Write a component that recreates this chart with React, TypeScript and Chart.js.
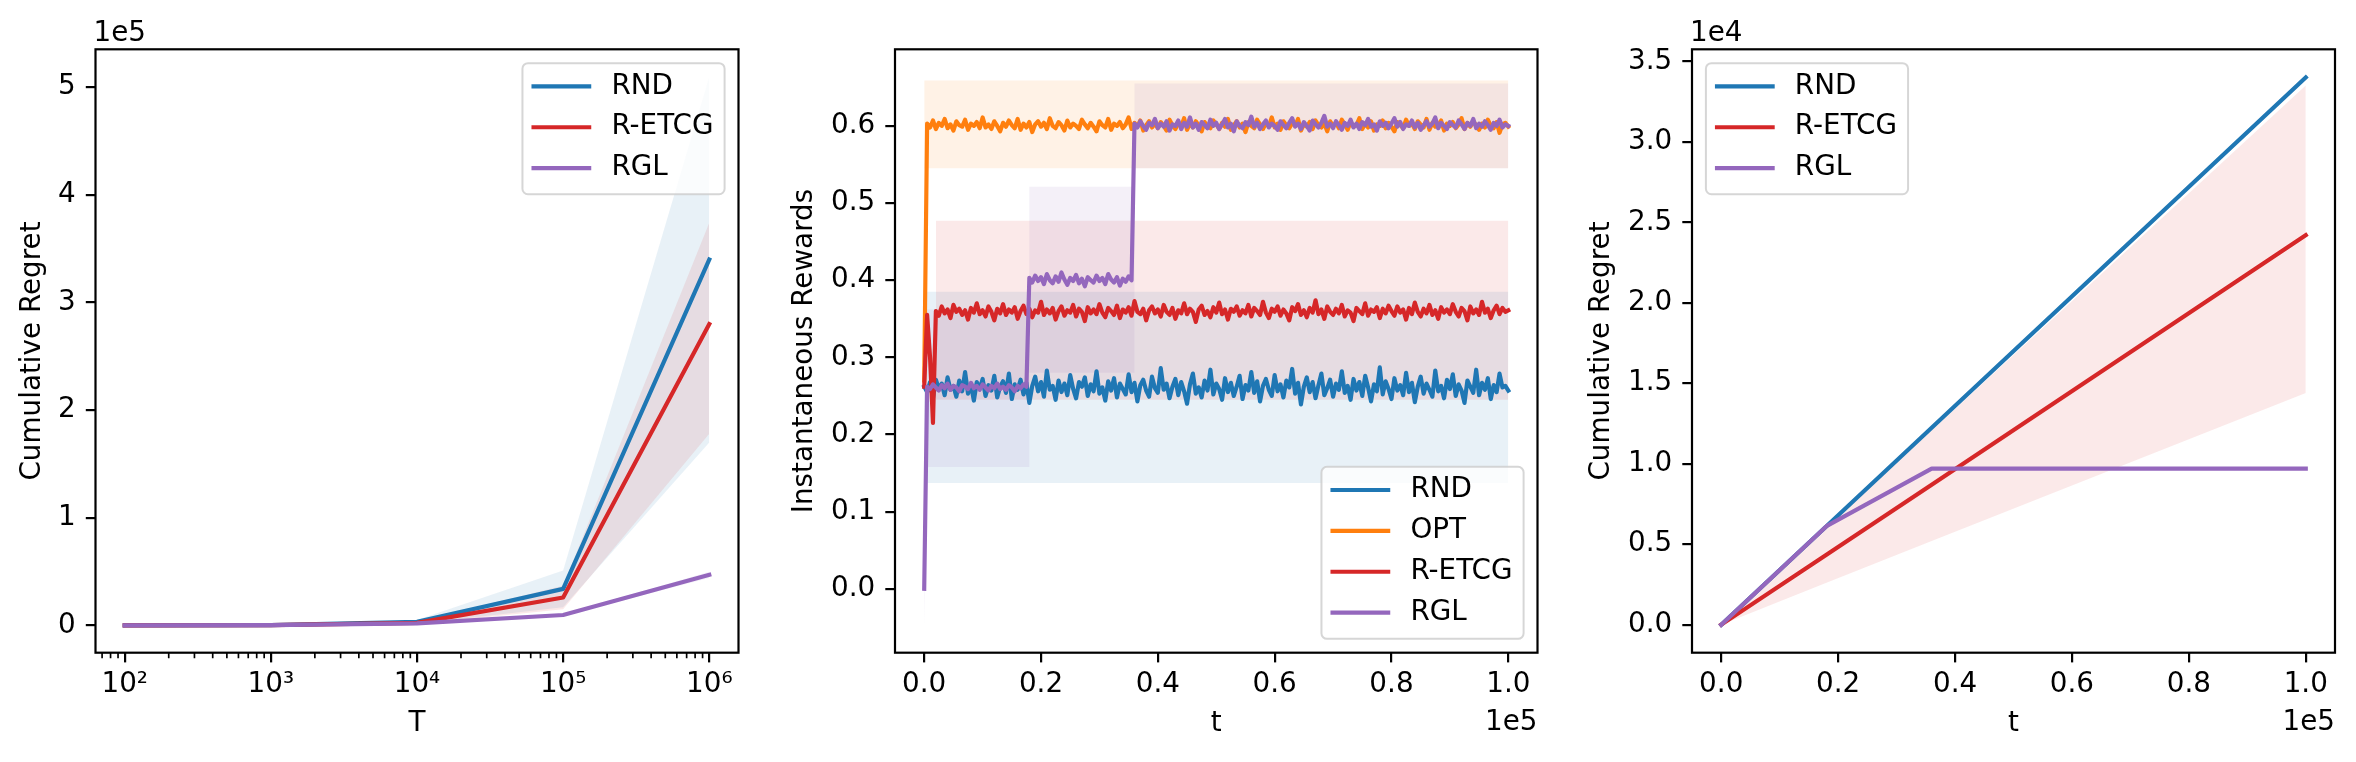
import React, { useEffect, useRef } from 'react';
import { Chart, ChartConfiguration, Plugin, registerables } from 'chart.js';

Chart.register(...registerables);

const FIG_W = 2356;
const FIG_H = 762;
const FONT = '"DejaVu Sans", sans-serif';
const FS = 27.8; // 10pt at 200 dpi
const LINE_W = 4.17; // 1.5pt
const AXES_TOP = 49.3;
const AXES_BOTTOM = 652.7;

const BLUE = '#1f77b4';
const ORANGE = '#ff7f0e';
const RED = '#d62728';
const PURPLE = '#9467bd';

// ---------- left panel: cumulative regret vs horizon T ----------
const HORIZONS = [1e2, 1e3, 1e4, 1e5, 1e6];
const HORIZON_LABELS = ['10²', '10³', '10⁴', '10⁵', '10⁶'];
const MINOR_DECADES = [10, 100, 1000, 10000, 100000];
const MINOR_MANTISSAS = [2, 3, 4, 5, 6, 7, 8, 9];
const H_RND = [34, 340, 3400, 34000, 340000];
const H_RND_LO = [17, 170, 1700, 17000, 170000];
const H_RND_HI = [51, 510, 5100, 51000, 510000];
const H_RETCG = [24, 240, 2400, 26000, 280000];
const H_RETCG_LO = [12, 120, 1200, 15000, 178000];
const H_RETCG_HI = [36, 360, 3600, 37000, 374000];
const H_RGL = [30, 300, 2000, 9700, 47000];
const H_RGL_LO = [25, 250, 1700, 9000, 44000];
const H_RGL_HI = [35, 350, 2300, 10400, 50000];
const REGRET_E5_TICKS = [0, 100000, 200000, 300000, 400000, 500000];
const REGRET_E5_LABELS = ['0', '1', '2', '3', '4', '5'];

// ---------- middle panel: instantaneous rewards, sampled every 500 steps ----------
const T_STEP = 500;
const REWARD_RND = [
  0.262, 0.255, 0.268, 0.247, 0.271, 0.259, 0.266, 0.251, 0.274, 0.258, 0.263, 0.249, 0.270, 0.256, 0.281, 0.253, 0.265, 0.244, 0.268, 0.259,
  0.272, 0.250, 0.264, 0.257, 0.276, 0.248, 0.262, 0.269, 0.254, 0.279, 0.246, 0.265, 0.258, 0.271, 0.252, 0.267, 0.241, 0.263, 0.275, 0.256,
  0.268, 0.249, 0.283, 0.258, 0.263, 0.245, 0.270, 0.255, 0.266, 0.251, 0.277, 0.259, 0.247, 0.268, 0.262, 0.274, 0.250, 0.265, 0.256, 0.282,
  0.253, 0.261, 0.244, 0.269, 0.257, 0.273, 0.248, 0.266, 0.259, 0.252, 0.278, 0.255, 0.267, 0.243, 0.264, 0.271, 0.257, 0.249, 0.275, 0.260,
  0.254, 0.286, 0.258, 0.266, 0.247, 0.262, 0.272, 0.251, 0.268, 0.256, 0.240, 0.265, 0.279, 0.253, 0.261, 0.248, 0.270, 0.257, 0.284, 0.252,
  0.266, 0.259, 0.245, 0.273, 0.255, 0.267, 0.250, 0.262, 0.276, 0.246, 0.264, 0.257, 0.281, 0.254, 0.269, 0.243, 0.263, 0.272, 0.258, 0.250,
  0.277, 0.256, 0.265, 0.248, 0.270, 0.261, 0.285, 0.253, 0.267, 0.239, 0.262, 0.274, 0.255, 0.268, 0.247, 0.264, 0.279, 0.251, 0.260, 0.271,
  0.249, 0.266, 0.258, 0.282, 0.254, 0.263, 0.245, 0.272, 0.257, 0.268, 0.250, 0.276, 0.261, 0.243, 0.265, 0.256, 0.287, 0.252, 0.269, 0.259,
  0.246, 0.273, 0.257, 0.264, 0.251, 0.280, 0.255, 0.267, 0.242, 0.262, 0.275, 0.253, 0.266, 0.258, 0.249, 0.283, 0.256, 0.263, 0.247, 0.271,
  0.259, 0.278, 0.250, 0.265, 0.257, 0.241, 0.270, 0.262, 0.254, 0.284, 0.251, 0.267, 0.258, 0.273, 0.246, 0.264, 0.255, 0.279, 0.261, 0.263,
  0.257,
];
const REWARD_OPT = [
  0.270, 0.603, 0.598, 0.607, 0.596, 0.604, 0.600, 0.609, 0.597, 0.602, 0.594, 0.606, 0.601, 0.599, 0.608, 0.595, 0.603, 0.600, 0.605, 0.597,
  0.611, 0.598, 0.602, 0.596, 0.606, 0.600, 0.593, 0.604, 0.599, 0.607, 0.601, 0.597, 0.609, 0.595, 0.603, 0.598, 0.605, 0.592, 0.602, 0.606,
  0.599, 0.604, 0.596, 0.610, 0.600, 0.597, 0.605, 0.601, 0.594, 0.607, 0.598, 0.603, 0.600, 0.596, 0.608, 0.602, 0.597, 0.604, 0.599, 0.593,
  0.606, 0.601, 0.598, 0.609, 0.595, 0.603, 0.600, 0.605, 0.597, 0.602, 0.611, 0.596, 0.604, 0.599, 0.607, 0.594, 0.601, 0.606, 0.598, 0.603,
  0.597, 0.605, 0.600, 0.594, 0.608, 0.601, 0.596, 0.604, 0.599, 0.610, 0.595, 0.603, 0.598, 0.606, 0.601, 0.593, 0.605, 0.600, 0.597, 0.607,
  0.602, 0.596, 0.604, 0.599, 0.609, 0.595, 0.601, 0.606, 0.598, 0.603, 0.592, 0.605, 0.600, 0.597, 0.608, 0.602, 0.596, 0.604, 0.599, 0.611,
  0.598, 0.603, 0.595, 0.606, 0.601, 0.597, 0.604, 0.600, 0.609, 0.594, 0.602, 0.599, 0.605, 0.596, 0.607, 0.601, 0.598, 0.603, 0.593, 0.606,
  0.600, 0.604, 0.597, 0.608, 0.602, 0.595, 0.605, 0.599, 0.601, 0.610, 0.596, 0.603, 0.598, 0.606, 0.594, 0.602, 0.600, 0.607, 0.597, 0.604,
  0.599, 0.593, 0.605, 0.601, 0.597, 0.608, 0.600, 0.603, 0.596, 0.606, 0.602, 0.598, 0.609, 0.595, 0.604, 0.599, 0.601, 0.607, 0.594, 0.603,
  0.600, 0.605, 0.597, 0.602, 0.610, 0.596, 0.604, 0.599, 0.606, 0.601, 0.595, 0.603, 0.598, 0.608, 0.600, 0.597, 0.605, 0.591, 0.602, 0.604,
  0.599,
];
const REWARD_RETCG = [
  0.262, 0.355, 0.300, 0.215, 0.360, 0.354, 0.366, 0.357, 0.362, 0.351, 0.368, 0.359, 0.363, 0.355, 0.361, 0.349, 0.364, 0.358, 0.370, 0.356,
  0.361, 0.353, 0.366, 0.359, 0.348, 0.363, 0.357, 0.369, 0.355, 0.362, 0.358, 0.365, 0.350, 0.360, 0.367, 0.356, 0.363, 0.352, 0.361, 0.358,
  0.372, 0.355, 0.362, 0.357, 0.364, 0.349, 0.360, 0.366, 0.354, 0.361, 0.358, 0.368, 0.353, 0.363, 0.359, 0.347, 0.365, 0.357, 0.362, 0.356,
  0.369, 0.358, 0.352, 0.364, 0.360, 0.355, 0.367, 0.351, 0.362, 0.358, 0.365, 0.354, 0.373, 0.359, 0.356, 0.363, 0.348, 0.361, 0.366, 0.357,
  0.362, 0.353, 0.368, 0.359, 0.355, 0.364, 0.350, 0.361, 0.357, 0.370, 0.356, 0.363, 0.359, 0.346, 0.362, 0.367, 0.355, 0.360, 0.352, 0.365,
  0.358, 0.371, 0.356, 0.362, 0.349, 0.363, 0.359, 0.366, 0.354, 0.361, 0.357, 0.368, 0.353, 0.364, 0.360, 0.355, 0.372, 0.358, 0.351, 0.363,
  0.359, 0.366, 0.354, 0.362, 0.357, 0.348, 0.365, 0.360, 0.369, 0.355, 0.361, 0.352, 0.364, 0.358, 0.374, 0.356, 0.362, 0.350, 0.366, 0.359,
  0.355, 0.363, 0.357, 0.368, 0.353, 0.361, 0.358, 0.347, 0.364, 0.360, 0.356, 0.370, 0.354, 0.362, 0.359, 0.365, 0.351, 0.363, 0.357, 0.367,
  0.360, 0.354, 0.366, 0.358, 0.362, 0.349, 0.364, 0.356, 0.371, 0.359, 0.353, 0.363, 0.357, 0.368, 0.355, 0.361, 0.350, 0.365, 0.358, 0.362,
  0.356, 0.369, 0.359, 0.353, 0.364, 0.360, 0.348, 0.366, 0.357, 0.362, 0.355, 0.372, 0.358, 0.363, 0.351, 0.361, 0.367, 0.356, 0.364, 0.359,
  0.361,
];
const REWARD_RGL = [
  0.000, 0.262, 0.259, 0.265, 0.261, 0.257, 0.264, 0.260, 0.266, 0.258, 0.263, 0.261, 0.256, 0.264, 0.262, 0.259, 0.267, 0.260, 0.263, 0.258,
  0.265, 0.261, 0.257, 0.263, 0.260, 0.266, 0.259, 0.262, 0.258, 0.264, 0.261, 0.256, 0.263, 0.260, 0.265, 0.262, 0.403, 0.397, 0.406, 0.399,
  0.404, 0.395, 0.408, 0.400, 0.396, 0.405, 0.398, 0.410, 0.401, 0.394, 0.403, 0.399, 0.407, 0.396, 0.402, 0.392, 0.404, 0.400, 0.397, 0.406,
  0.399, 0.403, 0.395, 0.408, 0.401, 0.397, 0.404, 0.393, 0.402, 0.398, 0.405, 0.400, 0.603, 0.598, 0.606, 0.600, 0.595, 0.604, 0.601, 0.609,
  0.597, 0.603, 0.599, 0.606, 0.594, 0.602, 0.600, 0.607, 0.596, 0.604, 0.599, 0.611, 0.598, 0.603, 0.595, 0.605, 0.601, 0.597, 0.608, 0.600,
  0.604, 0.596, 0.602, 0.609, 0.598, 0.603, 0.593, 0.606, 0.600, 0.597, 0.605, 0.601, 0.612, 0.599, 0.604, 0.596, 0.602, 0.607, 0.598, 0.603,
  0.600, 0.595, 0.606, 0.601, 0.597, 0.604, 0.610, 0.599, 0.603, 0.596, 0.605, 0.600, 0.594, 0.607, 0.602, 0.598, 0.604, 0.613, 0.599, 0.603,
  0.597, 0.606, 0.601, 0.595, 0.604, 0.600, 0.608, 0.598, 0.603, 0.596, 0.605, 0.601, 0.609, 0.599, 0.602, 0.594, 0.606, 0.600, 0.604, 0.597,
  0.603, 0.610, 0.599, 0.605, 0.596, 0.602, 0.600, 0.607, 0.598, 0.604, 0.595, 0.601, 0.606, 0.599, 0.603, 0.611, 0.597, 0.604, 0.600, 0.596,
  0.605, 0.601, 0.598, 0.607, 0.602, 0.596, 0.604, 0.600, 0.609, 0.597, 0.603, 0.599, 0.606, 0.601, 0.595, 0.604, 0.600, 0.608, 0.598, 0.602,
  0.600,
];
const FLAT_BAND_T = [0, 100000];
const RND_BAND_LO = [0.137, 0.137];
const RND_BAND_HI = [0.385, 0.385];
const OPT_BAND_LO = [0.545, 0.545];
const OPT_BAND_HI = [0.659, 0.659];
const RETCG_BAND_T = [2000, 100000];
const RETCG_BAND_LO = [0.245, 0.245];
const RETCG_BAND_HI = [0.477, 0.477];
const RGL_BAND_T = [0, 500, 18000, 18000, 36000, 36000, 100000];
const RGL_BAND_LO = [-0.047, 0.158, 0.158, 0.28, 0.28, 0.545, 0.545];
const RGL_BAND_HI = [0.047, 0.362, 0.362, 0.521, 0.521, 0.655, 0.655];
const REWARD_TICKS = [0, 0.1, 0.2, 0.3, 0.4, 0.5, 0.6];
const REWARD_LABELS = ['0.0', '0.1', '0.2', '0.3', '0.4', '0.5', '0.6'];

// ---------- right panel: cumulative regret over t ----------
const CUM_T = [0, 18000, 36000, 100000];
const CUM_RND = [0, 6120, 12240, 34000];
const CUM_RETCG = [0, 4350, 8700, 24200];
const CUM_RETCG_LO = [0, 2600, 5200, 14400];
const CUM_RETCG_HI = [0, 6030, 12060, 33500];
const CUM_RGL = [0, 6120, 9700, 9700];
const REGRET_E4_TICKS = [0, 5000, 10000, 15000, 20000, 25000, 30000, 35000];
const REGRET_E4_LABELS = ['0.0', '0.5', '1.0', '1.5', '2.0', '2.5', '3.0', '3.5'];

const T_TICKS = [0, 20000, 40000, 60000, 80000, 100000];
const T_TICK_LABELS = ['0.0', '0.2', '0.4', '0.6', '0.8', '1.0'];

interface Band { xs: number[]; lo: number[]; hi: number[]; color: string }
interface Series { label: string; xs: number[]; ys: number[]; color: string }
interface PanelSpec {
  left: number;
  width: number;
  areaLeft: number;
  areaRight: number;
  xType: 'linear' | 'logarithmic';
  xMin: number;
  xMax: number;
  xTicks: number[];
  xLabels: string[];
  xTitle: string;
  yMin: number;
  yMax: number;
  yTicks: number[];
  yLabels: string[];
  yTitle: string;
  yTitleCenter: number;
  bands: Band[];
  series: Series[];
  legendCorner: 'ur' | 'lr' | 'ul';
  yOffset?: string;
  xOffset?: string;
  minorX?: number[];
}

const fade = (hex: string, a: number) => {
  const n = parseInt(hex.slice(1), 16);
  return `rgba(${(n >> 16) & 255}, ${(n >> 8) & 255}, ${n & 255}, ${a})`;
};

const indexT = (ys: number[]) => ys.map((_, i) => i * T_STEP);

const drawLegend = (ctx: CanvasRenderingContext2D, a: any, corner: string, items: Series[]) => {
  const pad = 0.4 * FS;
  const handle = 2 * FS;
  const gap = 0.8 * FS;
  const spacing = 0.5 * FS;
  const axPad = 0.5 * FS;
  const rowH = 27;
  ctx.font = `${FS}px ${FONT}`;
  const tw = Math.max(...items.map((it) => ctx.measureText(it.label).width));
  const w = 2 * pad + handle + gap + tw;
  const h = 2 * pad + items.length * rowH + (items.length - 1) * spacing;
  const x0 = corner[1] === 'r' ? a.right - axPad - w : a.left + axPad;
  const y0 = corner[0] === 'u' ? a.top + axPad : a.bottom - axPad - h;

  ctx.beginPath();
  ctx.roundRect(x0, y0, w, h, 0.2 * FS);
  ctx.fillStyle = 'rgba(255, 255, 255, 0.8)';
  ctx.fill();
  ctx.lineWidth = 2;
  ctx.strokeStyle = 'rgba(204, 204, 204, 0.8)';
  ctx.stroke();

  items.forEach((it, i) => {
    const cy = y0 + pad + i * (rowH + spacing) + rowH / 2 - 1.5;
    ctx.beginPath();
    ctx.moveTo(x0 + pad, cy);
    ctx.lineTo(x0 + pad + handle, cy);
    ctx.lineWidth = LINE_W;
    ctx.lineCap = 'square';
    ctx.strokeStyle = it.color;
    ctx.stroke();
    ctx.fillStyle = '#000';
    ctx.textAlign = 'left';
    ctx.textBaseline = 'middle';
    ctx.fillText(it.label, x0 + pad + handle + gap, cy);
  });
};

// frame, minor ticks, offset texts and legend in matplotlib style
const mplDecor: Plugin = {
  id: 'mplDecor',
  afterDatasetsDraw(chart, _args, opts: any) {
    const { ctx, chartArea: a } = chart;
    ctx.save();
    if (opts.minorX) {
      const xs = chart.scales.x;
      ctx.strokeStyle = '#000';
      ctx.lineWidth = 1.67;
      ctx.beginPath();
      for (const v of opts.minorX as number[]) {
        const px = xs.getPixelForValue(v);
        if (px < a.left || px > a.right) continue;
        ctx.moveTo(px, a.bottom);
        ctx.lineTo(px, a.bottom + 5.56);
      }
      ctx.stroke();
    }
    ctx.lineWidth = 2.2;
    ctx.strokeStyle = '#000';
    ctx.strokeRect(a.left, a.top, a.right - a.left, a.bottom - a.top);
    ctx.restore();
  },
  afterDraw(chart, _args, opts: any) {
    const { ctx, chartArea: a } = chart;
    ctx.save();
    ctx.font = `${FS}px ${FONT}`;
    ctx.fillStyle = '#000';
    ctx.textBaseline = 'alphabetic';
    if (opts.yOffset) {
      ctx.textAlign = 'left';
      ctx.fillText(opts.yOffset, a.left - 2, 41);
    }
    if (opts.xOffset) {
      ctx.textAlign = 'right';
      ctx.fillText(opts.xOffset, a.right, 729.5);
    }
    drawLegend(ctx, a, opts.corner, opts.items);
    ctx.restore();
  },
};

const buildConfig = (spec: PanelSpec): ChartConfiguration => {
  const datasets: any[] = [];
  spec.bands.forEach((b) => {
    datasets.push({
      label: '',
      data: b.xs.map((x, i) => ({ x, y: b.lo[i] })),
      borderWidth: 0,
      borderColor: 'transparent',
      pointRadius: 0,
      fill: false,
    });
    datasets.push({
      label: '',
      data: b.xs.map((x, i) => ({ x, y: b.hi[i] })),
      borderWidth: 0,
      borderColor: 'transparent',
      backgroundColor: fade(b.color, 0.1),
      pointRadius: 0,
      fill: '-1',
    });
  });
  spec.series.forEach((s) => {
    datasets.push({
      label: s.label,
      data: s.xs.map((x, i) => ({ x, y: s.ys[i] })),
      borderColor: s.color,
      borderWidth: LINE_W,
      borderCapStyle: 'square',
      borderJoinStyle: 'round',
      pointRadius: 0,
      tension: 0,
      fill: false,
    });
  });
  // later datasets on top, like matplotlib
  datasets.forEach((d, i) => (d.order = datasets.length - i));

  const font = { family: FONT, size: FS, lineHeight: 1.2 };
  const grid = { drawOnChartArea: false, drawTicks: true, tickLength: 9.7, color: '#000', lineWidth: 2.2 };

  return {
    type: 'line',
    data: { datasets },
    plugins: [mplDecor],
    options: {
      responsive: false,
      animation: false,
      devicePixelRatio: 1,
      events: [],
      layout: { padding: { left: 0, top: AXES_TOP, right: spec.width - spec.areaRight, bottom: 0 } },
      scales: {
        x: {
          type: spec.xType,
          min: spec.xMin,
          max: spec.xMax,
          bounds: 'data',
          afterBuildTicks: (s: any) => { s.ticks = spec.xTicks.map((value) => ({ value })); },
          afterFit: (s: any) => { s.height = FIG_H - AXES_BOTTOM; },
          grid,
          border: { display: false },
          ticks: {
            callback: (_v: any, i: number) => spec.xLabels[i],
            font,
            color: '#000',
            padding: 6,
            maxRotation: 0,
            autoSkip: false,
          },
          title: { display: true, text: spec.xTitle, font, color: '#000', padding: { top: 0, bottom: 21.3 } },
        } as any,
        y: {
          type: 'linear',
          min: spec.yMin,
          max: spec.yMax,
          bounds: 'data',
          afterBuildTicks: (s: any) => { s.ticks = spec.yTicks.map((value) => ({ value })); },
          afterFit: (s: any) => { s.width = spec.areaLeft; },
          grid,
          border: { display: false },
          ticks: {
            callback: (_v: any, i: number) => spec.yLabels[i],
            font,
            color: '#000',
            padding: 10,
            autoSkip: false,
          },
          title: {
            display: true,
            text: spec.yTitle,
            font,
            color: '#000',
            padding: { top: spec.yTitleCenter - (FS * 1.2) / 2, bottom: 0 },
          },
        } as any,
      },
      plugins: {
        legend: { display: false },
        tooltip: { enabled: false },
        mplDecor: {
          corner: spec.legendCorner,
          items: spec.series,
          yOffset: spec.yOffset,
          xOffset: spec.xOffset,
          minorX: spec.minorX,
        },
      } as any,
    },
  };
};

const horizonPanel: PanelSpec = {
  left: 0,
  width: 760,
  areaLeft: 95.5,
  areaRight: 738.5,
  xType: 'logarithmic',
  xMin: Math.pow(10, 1.8),
  xMax: Math.pow(10, 6.2),
  xTicks: HORIZONS,
  xLabels: HORIZON_LABELS,
  xTitle: 'T',
  yMin: -25300,
  yMax: 535200,
  yTicks: REGRET_E5_TICKS,
  yLabels: REGRET_E5_LABELS,
  yTitle: 'Cumulative Regret',
  yTitleCenter: 33,
  bands: [
    { xs: HORIZONS, lo: H_RND_LO, hi: H_RND_HI, color: BLUE },
    { xs: HORIZONS, lo: H_RETCG_LO, hi: H_RETCG_HI, color: RED },
    { xs: HORIZONS, lo: H_RGL_LO, hi: H_RGL_HI, color: PURPLE },
  ],
  series: [
    { label: 'RND', xs: HORIZONS, ys: H_RND, color: BLUE },
    { label: 'R-ETCG', xs: HORIZONS, ys: H_RETCG, color: RED },
    { label: 'RGL', xs: HORIZONS, ys: H_RGL, color: PURPLE },
  ],
  legendCorner: 'ur',
  yOffset: '1e5',
  minorX: MINOR_DECADES.flatMap((d) => MINOR_MANTISSAS.map((m) => m * d)),
};

const rewardPanel: PanelSpec = {
  left: 760,
  width: 800,
  areaLeft: 135,
  areaRight: 777.5,
  xType: 'linear',
  xMin: -5000,
  xMax: 105000,
  xTicks: T_TICKS,
  xLabels: T_TICK_LABELS,
  xTitle: 't',
  yMin: -0.0828,
  yMax: 0.6993,
  yTicks: REWARD_TICKS,
  yLabels: REWARD_LABELS,
  yTitle: 'Instantaneous Rewards',
  yTitleCenter: 45,
  bands: [
    { xs: FLAT_BAND_T, lo: RND_BAND_LO, hi: RND_BAND_HI, color: BLUE },
    { xs: FLAT_BAND_T, lo: OPT_BAND_LO, hi: OPT_BAND_HI, color: ORANGE },
    { xs: RETCG_BAND_T, lo: RETCG_BAND_LO, hi: RETCG_BAND_HI, color: RED },
    { xs: RGL_BAND_T, lo: RGL_BAND_LO, hi: RGL_BAND_HI, color: PURPLE },
  ],
  series: [
    { label: 'RND', xs: indexT(REWARD_RND), ys: REWARD_RND, color: BLUE },
    { label: 'OPT', xs: indexT(REWARD_OPT), ys: REWARD_OPT, color: ORANGE },
    { label: 'R-ETCG', xs: indexT(REWARD_RETCG), ys: REWARD_RETCG, color: RED },
    { label: 'RGL', xs: indexT(REWARD_RGL), ys: REWARD_RGL, color: PURPLE },
  ],
  legendCorner: 'lr',
  xOffset: '1e5',
};

const cumulativePanel: PanelSpec = {
  left: 1560,
  width: 796,
  areaLeft: 132,
  areaRight: 775,
  xType: 'linear',
  xMin: -5000,
  xMax: 105000,
  xTicks: T_TICKS,
  xLabels: T_TICK_LABELS,
  xTitle: 't',
  yMin: -1740,
  yMax: 35750,
  yTicks: REGRET_E4_TICKS,
  yLabels: REGRET_E4_LABELS,
  yTitle: 'Cumulative Regret',
  yTitleCenter: 42,
  bands: [{ xs: CUM_T, lo: CUM_RETCG_LO, hi: CUM_RETCG_HI, color: RED }],
  series: [
    { label: 'RND', xs: CUM_T, ys: CUM_RND, color: BLUE },
    { label: 'R-ETCG', xs: CUM_T, ys: CUM_RETCG, color: RED },
    { label: 'RGL', xs: CUM_T, ys: CUM_RGL, color: PURPLE },
  ],
  legendCorner: 'ul',
  yOffset: '1e4',
  xOffset: '1e5',
};

const PanelChart: React.FC<{ spec: PanelSpec }> = ({ spec }) => {
  const canvasRef = useRef<HTMLCanvasElement>(null);

  useEffect(() => {
    if (!canvasRef.current) return;
    const chart = new Chart(canvasRef.current, buildConfig(spec));
    return () => {
      chart.destroy();
    };
  }, [spec]);

  return (
    <canvas
      ref={canvasRef}
      width={spec.width}
      height={FIG_H}
      style={{ position: 'absolute', left: spec.left, top: 0, width: spec.width, height: FIG_H }}
    />
  );
};

const App: React.FC = () => (
  <div style={{ position: 'fixed', left: 0, top: 0, width: FIG_W, height: FIG_H, background: '#fff' }}>
    <PanelChart spec={horizonPanel} />
    <PanelChart spec={rewardPanel} />
    <PanelChart spec={cumulativePanel} />
  </div>
);

export default App;
